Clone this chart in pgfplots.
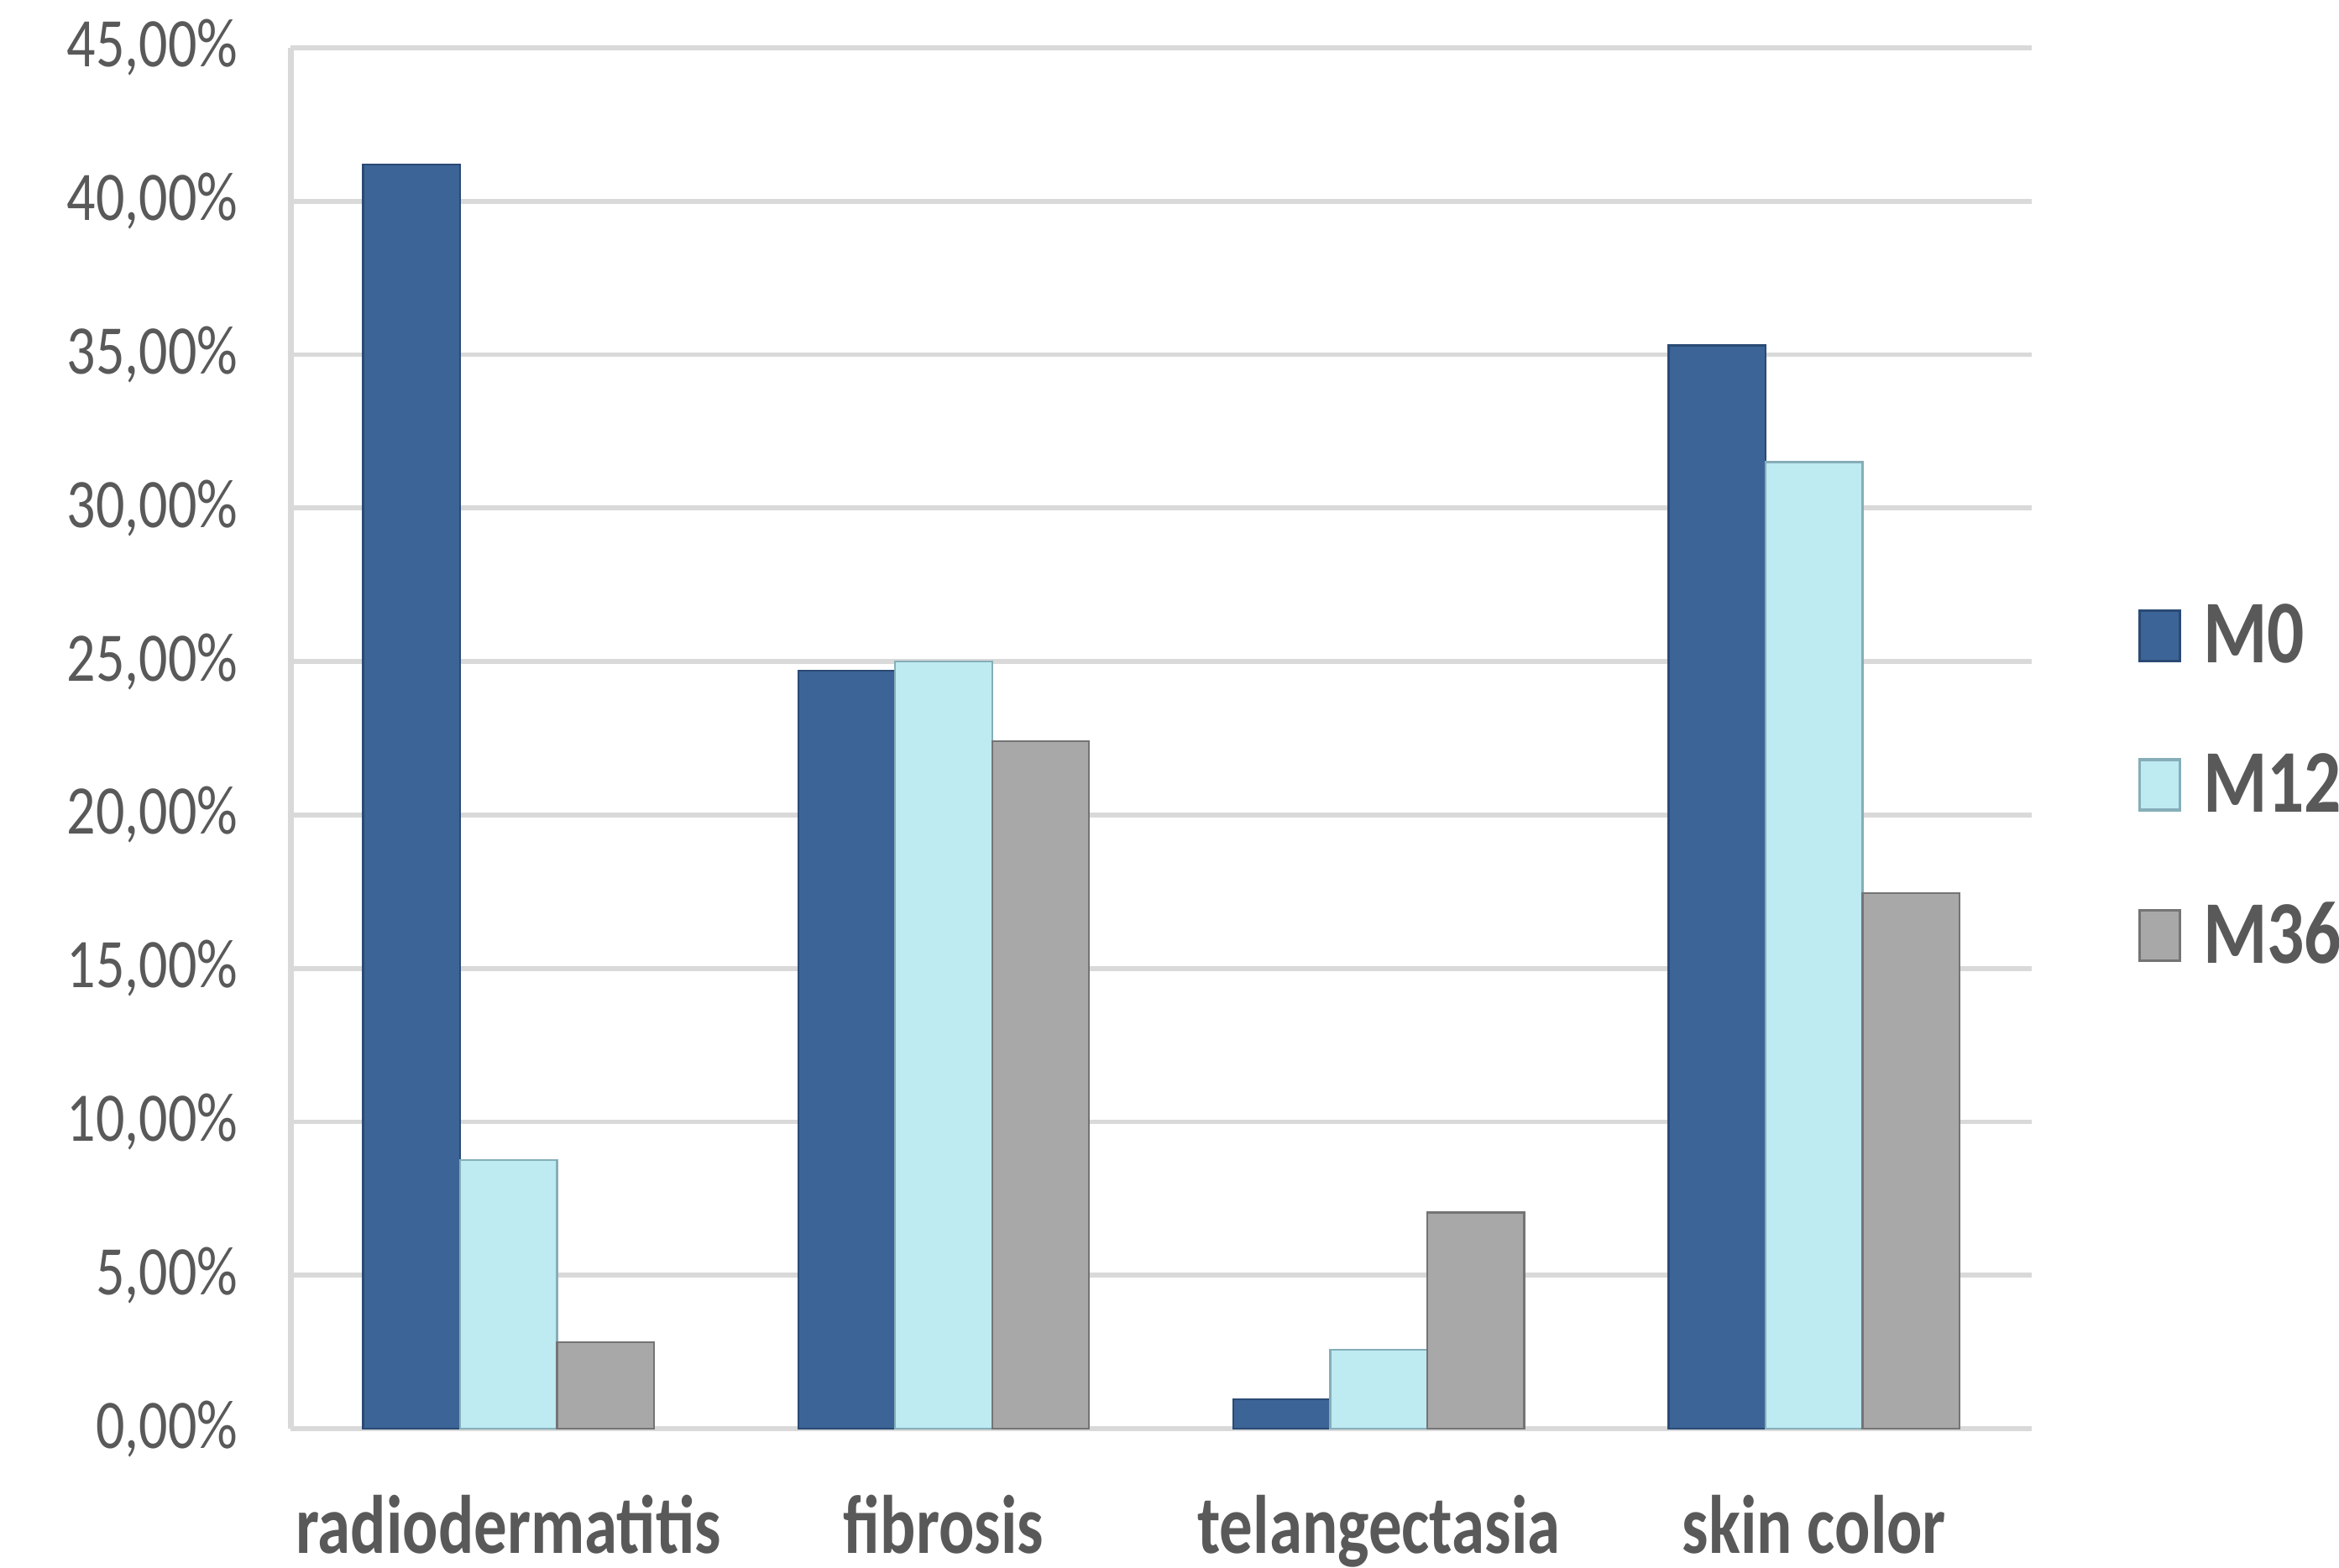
\documentclass[border=0pt]{standalone}
\usepackage{pgfplots}
\pgfplotsset{compat=1.18}
\usepackage{fontspec}
\setmainfont{Carlito}
\newfontfamily\condfont[FakeStretch=0.82]{Carlito}
\newfontfamily\labfont[FakeStretch=0.8]{Carlito}

\definecolor{txt}{HTML}{595959}
\definecolor{gridgray}{HTML}{D9D9D9}
\definecolor{mzero}{HTML}{3C6496}
\definecolor{mzeroedge}{HTML}{2A4A74}
\definecolor{mtwelve}{HTML}{BEEAF2}
\definecolor{mtwelveedge}{HTML}{86AEB8}
\definecolor{mthirtysix}{HTML}{A8A8A8}
\definecolor{mthirtysixedge}{HTML}{747474}

\begin{document}
\begin{tikzpicture}
\useasboundingbox (-87.75pt,-41.85pt) rectangle (617.85pt,431.1pt);
\begin{axis}[
    at={(0pt,0pt)}, anchor=south west,
    scale only axis,
    width=525.15pt, height=416.7pt,
    ybar=0pt, bar width=29.25pt,
    xmin=-0.5, xmax=3.5,
    ymin=0, ymax=45,
    xtick={0,1,2,3},
    xticklabels={radiodermatitis,fibrosis,telangectasia,skin color},
    ytick={0,5,...,45},
    yticklabel={\pgfmathprintnumber{\tick},00\%},
    /pgf/number format/assume math mode=true,
    major tick length=0pt,
    axis x line*=bottom, axis y line*=left,
    axis line style={-, gridgray, line width=1.6pt},
    ymajorgrids,
    grid style={gridgray, line width=1.5pt},
    yticklabel style={font=\condfont\fontsize{21}{21}\selectfont, text=txt, xshift=-12.5pt},
    xticklabel style={font=\labfont\bfseries\fontsize{25}{25}\selectfont, text=txt,
        anchor=base, yshift=-37.6pt},
    legend style={draw=none, fill=none, at={(1,0.4654)}, anchor=west,
        xshift=32pt, inner sep=0pt, row sep=21.8pt,
        /tikz/every odd column/.append style={column sep=4.5pt},
        font={\color{txt}\condfont\bfseries\fontsize{27}{27}\selectfont}},
    legend cell align=left,
    legend image code/.code={
        \draw[#1, line width=0.8pt] (0pt,-7.6pt) rectangle (12.2pt,7.6pt);},
]
\addplot[fill=mzero, draw=mzeroedge, line width=0.6pt]
    coordinates {(0,41.2) (1,24.7) (2,0.97) (3,35.3)};
\addlegendentry{M0}
\addplot[fill=mtwelve, draw=mtwelveedge, line width=0.6pt]
    coordinates {(0,8.75) (1,25.0) (2,2.58) (3,31.5)};
\addlegendentry{M12}
\addplot[fill=mthirtysix, draw=mthirtysixedge, line width=0.6pt]
    coordinates {(0,2.82) (1,22.4) (2,7.05) (3,17.45)};
\addlegendentry{M36}
\end{axis}
\end{tikzpicture}
\end{document}
